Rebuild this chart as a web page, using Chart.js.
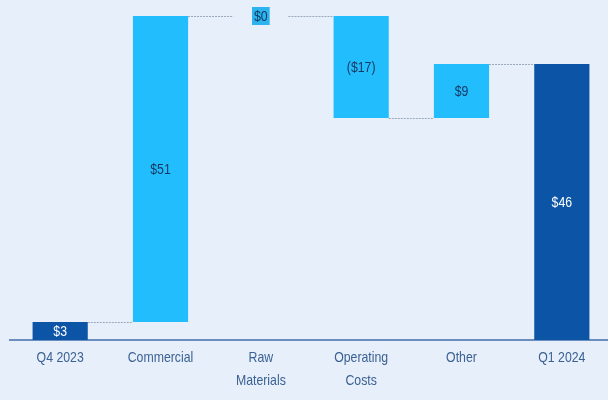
<!DOCTYPE html>
<html>
<head>
<meta charset="utf-8">
<script src="https://cdn.jsdelivr.net/npm/chart.js@4.4.1/dist/chart.umd.min.js"></script>
<style>
  html, body { margin: 0; padding: 0; background: #e6effa; overflow: hidden; }
  #wrap { width: 612px; height: 400px; position: relative; }
</style>
</head>
<body>
<div id="wrap"><canvas id="bridgeChart"></canvas></div>
<script>
const categories = ['Q4 2023', 'Commercial', ['Raw', 'Materials'], ['Operating', 'Costs'], 'Other', 'Q1 2024'];
const amounts = [3, 51, 0, -17, 9, 46];
const isTotal = [true, false, false, false, false, true];
const valueLabels = ['$3', '$51', '$0', '($17)', '$9', '$46'];

const LIGHT = '#22bdfd';
const DARK = '#0c55a6';
const FONT = '"Liberation Sans", Arial, sans-serif';

// floating [start, end] ranges from the step amounts
const ranges = [];
let running = 0;
amounts.forEach(function(v, i) {
    if (isTotal[i]) {
        ranges.push([0, v]);
        running = v;
    } else {
        ranges.push([running, running + v]);
        running += v;
    }
});
const levels = ranges.map(function(r) { return r[1]; });

// condensed text: squeeze the regular face horizontally
function narrowText(ctx, text, x, y) {
    ctx.save();
    ctx.translate(x, y);
    ctx.scale(0.82, 1);
    ctx.fillText(text, 0, 0);
    ctx.restore();
}

const connectors = {
    id: 'connectors',
    beforeDatasetsDraw(chart) {
        const ctx = chart.ctx;
        const meta = chart.getDatasetMeta(0);
        const y = chart.scales.y;
        ctx.save();
        ctx.strokeStyle = '#9aa9bb';
        ctx.lineWidth = 1;
        ctx.setLineDash([2, 1]);
        for (let i = 0; i < meta.data.length - 1; i++) {
            const a = meta.data[i], b = meta.data[i + 1];
            const py = Math.round(y.getPixelForValue(levels[i])) + 0.5;
            ctx.beginPath();
            ctx.moveTo(a.x + a.width / 2, py);
            ctx.lineTo(b.x - b.width / 2, py);
            ctx.stroke();
        }
        ctx.restore();
    }
};

const barLabels = {
    id: 'barLabels',
    afterDatasetsDraw(chart) {
        const ctx = chart.ctx;
        const meta = chart.getDatasetMeta(0);
        ctx.save();
        ctx.font = '15px ' + FONT;
        ctx.textAlign = 'center';
        ctx.textBaseline = 'middle';
        meta.data.forEach(function(bar, i) {
            const cy = (bar.y + bar.base) / 2;
            if (amounts[i] === 0) {
                const w = ctx.measureText(valueLabels[i]).width * 0.82 + 4;
                ctx.fillStyle = '#2cb4ef';
                ctx.fillRect(bar.x - w / 2, cy - 9, w, 18);
            }
            ctx.fillStyle = isTotal[i] ? '#ffffff' : '#163a62';
            narrowText(ctx, valueLabels[i], bar.x, cy + 1);
        });
        ctx.restore();
    }
};

// category labels under the axis, placed by the x scale
const categoryLabels = {
    id: 'categoryLabels',
    afterDraw(chart) {
        const ctx = chart.ctx;
        const x = chart.scales.x;
        const top = chart.chartArea.bottom;
        ctx.save();
        ctx.font = '15px ' + FONT;
        ctx.fillStyle = '#3c6193';
        ctx.textAlign = 'center';
        ctx.textBaseline = 'middle';
        categories.forEach(function(c, i) {
            const lines = Array.isArray(c) ? c : [c];
            const px = x.getPixelForValue(i);
            lines.forEach(function(line, j) {
                narrowText(ctx, line, px, top + 18 + j * 23);
            });
        });
        ctx.restore();
    }
};

new Chart(document.getElementById('bridgeChart'), {
    type: 'bar',
    data: {
        labels: categories,
        datasets: [{
            data: ranges,
            backgroundColor: isTotal.map(function(t) { return t ? DARK : LIGHT; }),
            borderWidth: 0,
            borderSkipped: false,
            barPercentage: 0.55,
            categoryPercentage: 1
        }]
    },
    options: {
        responsive: true,
        maintainAspectRatio: false,
        animation: false,
        layout: { padding: { left: 10, right: 0, top: 4, bottom: 60 } },
        plugins: {
            legend: { display: false },
            tooltip: { enabled: false }
        },
        scales: {
            x: {
                grid: { display: false, drawTicks: false },
                border: { display: true, color: '#6a8ebd', width: 2 },
                ticks: { display: false }
            },
            y: {
                display: false,
                min: 0,
                max: 56
            }
        }
    },
    plugins: [connectors, barLabels, categoryLabels]
});
</script>
</body>
</html>
